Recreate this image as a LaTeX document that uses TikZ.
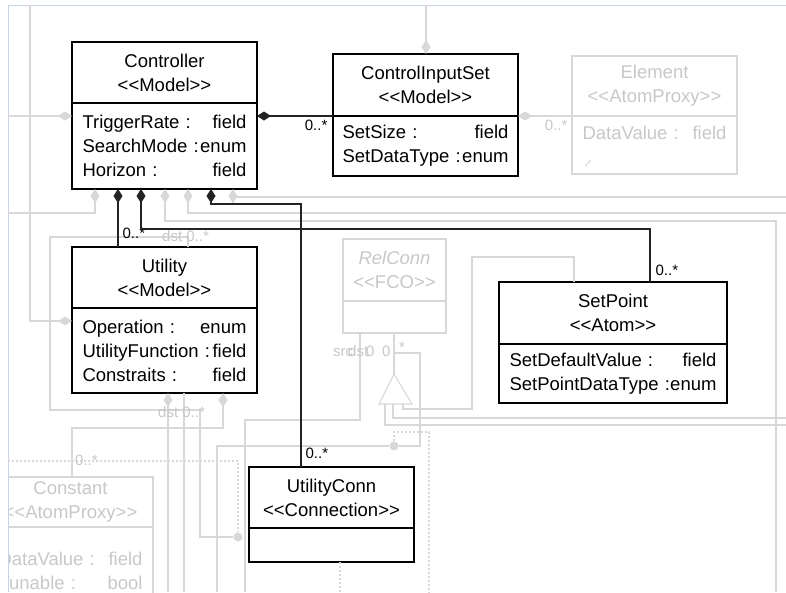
\documentclass[tikz,border=0pt]{standalone}
\usepackage{fontspec}
\newfontfamily\umlfont{Liberation Sans}
\usetikzlibrary{arrows.meta, positioning, calc}
\definecolor{umlink}{RGB}{35, 35, 35}
\definecolor{fadeline}{RGB}{216, 216, 216}
\definecolor{fadetext}{RGB}{200, 200, 200}
\definecolor{framecol}{RGB}{200, 212, 228}

\begin{document}
\begin{tikzpicture}[x=1pt, y=-1pt,
  font=\umlfont\fontsize{18.5}{24}\selectfont,
  hdr/.style={draw=black, fill=white, line width=1.8pt, minimum width=#1, minimum height=61pt,
    align=center, inner sep=0pt, outer sep=0pt, anchor=north west},
  attrs/.style={draw=black, fill=white, line width=1.8pt, text width=#1, align=left,
    inner xsep=10.5pt, inner ysep=0pt, outer sep=0pt},
  faded/.style={draw=fadeline, text=fadetext, line width=1.2pt},
  comp/.style={draw=umlink, line width=1.2pt, {Diamond[length=14pt, width=9pt]}-},
  fline/.style={draw=fadeline, line width=1.1pt},
  ldiam/.style={fline, {Diamond[length=14pt, width=9pt]}-},
  ldot/.style={fline, dash pattern=on 2pt off 2pt},
  jdot/.style={circle, fill=fadeline, inner sep=0pt, minimum size=9pt},
  lbl/.style={font=\umlfont\fontsize{15}{18}\selectfont, inner sep=0pt},
  flbl/.style={lbl, text=fadetext},
]
\useasboundingbox (0,0) rectangle (786,592);
\fill[white] (0,0) rectangle (786,592);

% window edge
\draw[framecol, line width=1pt] (786,5) -- (8,5) -- (8,592);

% Controller
\node[hdr=185pt] (ctrl) at (72,42) {Controller\\<<Model>>};
\node[attrs=164pt, minimum height=86pt, below=0pt of ctrl] (ctrl-a)
  {TriggerRate~:\hfill field\\SearchMode~:\hfill enum\\Horizon~:\hfill field};

% ControlInputSet
\node[hdr=185pt, minimum height=62pt] (cis) at (333,54) {ControlInputSet\\<<Model>>};
\node[attrs=166pt, inner xsep=9.5pt, minimum height=60pt, below=0pt of cis] (cis-a)
  {SetSize~:\hfill field\\SetDataType~:\hfill enum};

% Element (greyed out)
\node[hdr=165pt, faded, minimum height=60pt] (el) at (572,56) {Element\\<<AtomProxy>>};
\node[attrs=144pt, faded, minimum height=58pt, below=0pt of el] (el-a)
  {DataValue~:\hfill field\\\mbox{}};
\draw[fadeline, line width=1pt, -{Stealth[length=3pt]}] (585,166) -- (591,160);

% Utility
\node[hdr=185pt] (util) at (72,247) {Utility\\<<Model>>};
\node[attrs=164pt, minimum height=85pt, below=0pt of util] (util-a)
  {Operation~:\hfill enum\\UtilityFunction~:\hfill field\\Constraits~:\hfill field};

% SetPoint
\node[hdr=228pt, minimum height=62pt] (sp) at (499,282) {SetPoint\\<<Atom>>};
\node[attrs=207pt, minimum height=59pt, below=0pt of sp] (sp-a)
  {SetDefaultValue~:\hfill field\\SetPointDataType~:\hfill enum};

% RelConn (greyed out)
\node[hdr=103pt, faded, minimum height=62pt] (rc) at (343,239) {{\itshape RelConn}\\<<FCO>>};
\node[attrs=82pt, faded, minimum height=32pt, below=0pt of rc] (rc-a) {};

% UtilityConn
\node[hdr=165pt] (uc) at (249,467) {UtilityConn\\<<Connection>>};
\node[attrs=144pt, minimum height=34pt, below=0pt of uc] (uc-a) {};

% Constant, cut by the window edge
\begin{scope}
\clip (9,0) rectangle (786,592);
\node[hdr=165pt, faded, minimum height=50pt] (cst) at (-12,477) {Constant\\<<AtomProxy>>};
\draw[fadeline, line width=1.2pt] (cst.south east) -- ++(0,70);
\node[attrs=144pt, draw=none, fill=none, text=fadetext, below=25pt of cst] (cst-a)
  {DataValue~:\hfill field\\Tunable~:\hfill bool};
\end{scope}

% junction dots
\node[jdot] (j1) at (238,537) {};
\node[jdot] (j2) at (394,446) {};

% greyed links
\draw[ldiam] ($(ctrl-a.north west)+(0,13)$) -- (8,116);
\draw[ldiam] ($(util-a.north west)+(0,13)$) -| (30,5);
\draw[ldiam] ($(ctrl-a.south west)+(23,0)$) |- (8,213);
\draw[ldiam] ($(ctrl-a.south west)+(93,0)$) |- (776,221) -- (776,592);
\draw[ldiam] ($(ctrl-a.south west)+(116,0)$) |- (786,213);
\draw[ldiam] ($(ctrl-a.south west)+(161,0)$) -- ++(0,14);
\draw[fline] ($(ctrl-a.south west)+(161,8)$) -- (786,197);
\draw[ldiam] ($(cis.north west)+(93,0)$) -- (426,5);
\draw[ldiam] (cis-a.north east) -- (el.south west)
  node[flbl, anchor=base east, xshift=-4pt, yshift=-14pt] (m-el) {0..*};

\draw[fline] ($(util.north west)+(116,0)$) -- ++(0,-10) -- (50,237) -- (50,410)
  -- (200,410) -- (200,537) -- (j1);
\node[flbl, anchor=base west] (m-dst1) at (162,241) {dst 0..*};
\draw[ldiam] ($(util-a.south west)+(96,0)$) -- (168,592);
\draw[fline] ($(util-a.south west)+(112,0)$) -- (184,592);
\node[flbl, anchor=base west] (m-dst2) at (158,417) {dst 0..*};
\draw[ldiam] ($(util-a.south west)+(151,0)$) -- ++(0,35) -| ($(cst.north west)+(84,0)$);

\draw[ldot] (8,461) -| (j1);
\node[flbl, anchor=base west] (m-cst) at (75,465) {0..*};
\draw[fline] ($(rc-a.south west)+(17,0)$) |- (245,420) -- (245,592);
\draw[fline] (217,592) |- (j2);
\draw[fline] ($(rc-a.south west)+(51,0)$) -- ++(0,20) -| (420,446) -- (j2);
\draw[ldot] (j2) -- (394,432) -- (429,432) -- (429,592);
\draw[ldot] ($(uc-a.south west)+(91,0)$) -- (340,592);

% inheritance
\coordinate (tri) at (394,374);
\draw[fline] ($(rc-a.south west)+(51,0)$) -- (tri);
\draw[fline] (tri) -- (379,404) -- (412,404) -- cycle;
\draw[fline] (385,404) |- (786,425);
\draw[fline] (393,404) |- (786,418);
\draw[fline] (403,404) -- (403,409) -- (472,409) -- (472,257) -| ($(sp.north west)+(75,0)$);
\node[flbl, anchor=base west] (m-src) at (333,356) {src};
\node[flbl, anchor=base west] (m-dst3) at (348,356) {dst};
\node[flbl, anchor=base west] (m-n1) at (366,356) {0};
\node[flbl, anchor=base west] (m-n2) at (382,356) {0};
\node[flbl, anchor=base west] (m-n3) at (399,352) {*};

% compositions
\coordinate (ctrl-b1) at ($(ctrl-a.south west)+(46,0)$);
\coordinate (ctrl-b2) at ($(ctrl-a.south west)+(69,0)$);
\coordinate (ctrl-b3) at ($(ctrl-a.south west)+(139,0)$);
\coordinate (sp-top) at ($(sp.north west)+(151,0)$);
\coordinate (uc-top) at ($(uc.north west)+(52,0)$);

\draw[comp] (ctrl.east |- cis.south) -- (cis.south west)
  node[lbl, anchor=base east, xshift=-5pt, yshift=-14pt] (m-cis) {0..*};
\draw[comp] (ctrl-b1) -- (ctrl-b1 |- util.north)
  node[lbl, anchor=base west, xshift=4pt, yshift=9pt] (m-util) {0..*};
\draw[comp] (ctrl-b2) -- ++(0,40) -| (sp-top)
  node[lbl, anchor=base west, xshift=5pt, yshift=7pt] (m-sp) {0..*};
\draw[comp] (ctrl-b3) -- ++(0,15) -| (uc-top)
  node[lbl, anchor=base west, xshift=4pt, yshift=9pt] (m-uc) {0..*};
\end{tikzpicture}
\end{document}
